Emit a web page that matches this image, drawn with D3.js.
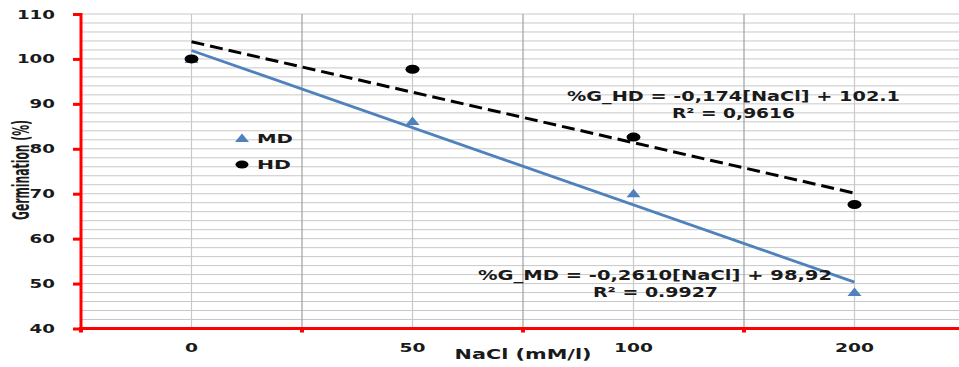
<!DOCTYPE html>
<html>
<head>
<meta charset="utf-8">
<script src="https://cdn.jsdelivr.net/npm/d3@7"></script>
<style>
  body { margin: 0; background: #fff; }
  text { font-family: "DejaVu Sans", sans-serif; font-weight: bold; fill: #1a1a1a; }
</style>
</head>
<body>
<div id="chart"></div>
<script>
// Data
const categories = ["0", "50", "100", "200"];
const mdValues = [100, 86.2, 70.1, 48.1];
const hdValues = [100, 97.7, 82.6, 67.6];
const yTickValues = [40, 50, 60, 70, 80, 90, 100, 110];
const seriesNames = ["MD", "HD"];
const hdEquation = ["%G_HD = -0,174[NaCl] + 102.1", "R\u00b2 = 0,9616"];
const mdEquation = ["%G_MD = -0,2610[NaCl] + 98,92", "R\u00b2 = 0.9927"];

(() => {
    const width = 959;
    const height = 367;
    const blue = "#4f81bd";
    const red = "#ff0000";

    const svg = d3.select("#chart")
        .append("svg")
        .attr("width", width)
        .attr("height", height);

    // Category axis (equal spacing) and value axis
    const x = d3.scaleBand()
        .domain(categories)
        .range([81, 965])
        .padding(0);
    const cx = d => x(d) + x.bandwidth() / 2;

    const y = d3.scaleLinear()
        .domain([40, 110])
        .range([328.5, 14]);

    // Horizontal minor gridlines every 2 units
    svg.append("g")
        .selectAll("line")
        .data(d3.range(40, 111, 2))
        .join("line")
        .attr("x1", 81).attr("x2", width)
        .attr("y1", d => y(d)).attr("y2", d => y(d))
        .attr("stroke", "#c8c8c8")
        .attr("stroke-width", 1);

    // Vertical gridlines: category centres (light) and boundaries (darker)
    svg.append("g")
        .selectAll("line")
        .data(categories)
        .join("line")
        .attr("x1", d => cx(d)).attr("x2", d => cx(d))
        .attr("y1", y(110)).attr("y2", y(40))
        .attr("stroke", "#c8c8c8")
        .attr("stroke-width", 1.2);
    svg.append("g")
        .selectAll("line")
        .data(categories.slice(1))
        .join("line")
        .attr("x1", d => x(d)).attr("x2", d => x(d))
        .attr("y1", y(110)).attr("y2", y(40))
        .attr("stroke", "#a0a0a0")
        .attr("stroke-width", 1.2);

    // Red axes
    const yAxis = svg.append("g")
        .attr("transform", `translate(81,0)`)
        .call(d3.axisLeft(y).tickValues(yTickValues).tickSize(8).tickFormat(""));
    yAxis.selectAll("path, line").attr("stroke", red).attr("stroke-width", 3);
    yAxis.select(".domain").attr("d", `M0,${y(110) - 1}V${y(40) + 3}`);

    const xAxis = svg.append("g")
        .attr("transform", `translate(0,${y(40)})`)
        .call(d3.axisBottom(x).tickSize(0).tickFormat(""));
    xAxis.selectAll(".tick").remove();
    xAxis.select(".domain")
        .attr("d", `M79,0H${width}`)
        .attr("stroke", red).attr("stroke-width", 3);
    svg.append("g")
        .selectAll("rect")
        .data(categories)
        .join("rect")
        .attr("x", d => x(d) - 2)
        .attr("y", y(40))
        .attr("width", 4)
        .attr("height", 4)
        .attr("fill", red);

    // Stretched text helper (the reference is widened horizontally)
    function label(g, txt, px, py, anchor, size, len) {
        return g.append("text")
            .text(txt)
            .attr("x", px).attr("y", py)
            .attr("text-anchor", anchor)
            .attr("font-size", size)
            .attr("textLength", len)
            .attr("lengthAdjust", "spacingAndGlyphs");
    }

    const labels = svg.append("g");
    yTickValues.forEach(v => {
        const s = String(v);
        label(labels, s, 55, y(v) + 4.5, "end", 12.5, s.length * 12.7);
    });
    categories.forEach(c => {
        label(labels, c, cx(c), 352, "middle", 12.5, c.length * 13);
    });
    label(labels, "NaCl (mM/l)", x("100"), 359, "middle", 13.5, 137);

    labels.append("text")
        .text("Germination (%)")
        .attr("text-anchor", "middle")
        .attr("font-size", 14)
        .attr("font-family", "Liberation Sans, Arial, sans-serif")
        .attr("textLength", 100)
        .attr("lengthAdjust", "spacingAndGlyphs")
        .attr("transform", "translate(29,170) rotate(-90) scale(1,1.6)");

    // Linear trend against category position (as the spreadsheet does)
    function trend(values) {
        const xs = values.map((v, i) => i + 1);
        const mx = d3.mean(xs), my = d3.mean(values);
        const slope = d3.sum(xs, (xi, i) => (xi - mx) * (values[i] - my)) /
            d3.sum(xs, xi => (xi - mx) ** 2);
        const icpt = my - slope * mx;
        return [
            [cx(categories[0]), y(icpt + slope * 1)],
            [cx(categories[categories.length - 1]), y(icpt + slope * values.length)]
        ];
    }
    const line = d3.line();

    svg.append("path")
        .attr("d", line(trend(mdValues)))
        .attr("stroke", blue).attr("stroke-width", 2.8).attr("fill", "none");
    svg.append("path")
        .attr("d", line(trend(hdValues)))
        .attr("stroke", "#000").attr("stroke-width", 3)
        .attr("stroke-dasharray", "13,6").attr("fill", "none");

    // Markers (stretched, like the reference)
    const tri = "M0,-4.5L7,4L-7,4Z";
    svg.append("g")
        .selectAll("path")
        .data(mdValues)
        .join("path")
        .attr("d", tri)
        .attr("transform", (d, i) => `translate(${cx(categories[i])},${y(d)})`)
        .attr("fill", blue);
    svg.append("g")
        .selectAll("ellipse")
        .data(hdValues)
        .join("ellipse")
        .attr("cx", (d, i) => cx(categories[i]))
        .attr("cy", d => y(d))
        .attr("rx", 7).attr("ry", 4.5)
        .attr("fill", "#000");

    // Legend
    const legend = svg.append("g");
    legend.append("path").attr("d", tri)
        .attr("transform", "translate(242,138)").attr("fill", blue);
    legend.append("ellipse")
        .attr("cx", 242).attr("cy", 164.5).attr("rx", 6.5).attr("ry", 4)
        .attr("fill", "#000");
    label(legend, seriesNames[0], 257, 142.5, "start", 12.5, 36);
    label(legend, seriesNames[1], 257, 168.5, "start", 12.5, 34);

    // Trendline equations
    const notes = svg.append("g");
    label(notes, hdEquation[0], 567, 100.5, "start", 13.5, 333);
    label(notes, hdEquation[1], 672, 117.5, "start", 13.5, 123);
    label(notes, mdEquation[0], 478, 279.5, "start", 13.5, 354);
    label(notes, mdEquation[1], 593, 296.5, "start", 13.5, 125);
})();
</script>
</body>
</html>
